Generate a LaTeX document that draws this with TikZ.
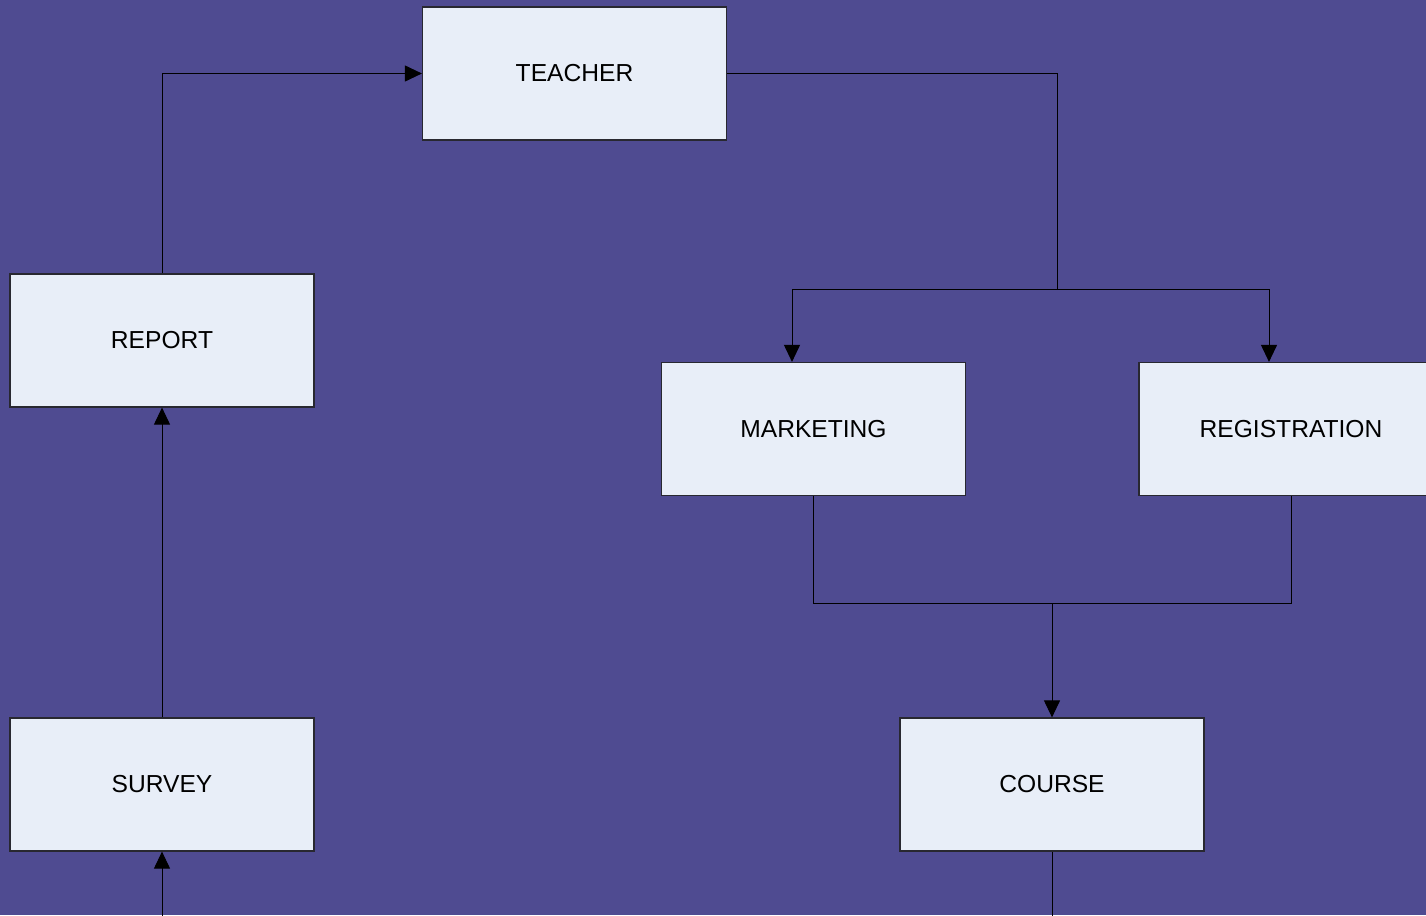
\documentclass[tikz,border=0pt]{standalone}
\usepackage{fontspec}
\setmainfont{Liberation Sans}
\usetikzlibrary{arrows.meta}
\definecolor{bg}{RGB}{79,75,145}
\definecolor{boxfill}{RGB}{232,238,248}
\definecolor{boxline}{RGB}{40,40,48}
\tikzset{
  block/.style={draw=boxline, line width=1.2pt, fill=boxfill, minimum width=304pt, minimum height=133pt, inner sep=0pt, font=\fontsize{24.6}{28}\selectfont, text=black},
  conn/.style={draw=black, line width=1pt},
  arr/.style={conn, -{Triangle[length=17pt,width=16pt]}}
}
\begin{document}
\begin{tikzpicture}[x=1pt,y=-1pt]
\fill[bg] (0,0) rectangle (1426,915);
\useasboundingbox (0,0) rectangle (1426,915);
\clip (0,0) rectangle (1426,915);
\node[block] (teacher) at (574.5,73.5) {TEACHER};
\node[block] (report) at (162,340.5) {REPORT};
\node[block] (survey) at (162,784.5) {SURVEY};
\node[block] (marketing) at (813.5,429) {MARKETING};
\node[block] (registration) at (1291,429) {REGISTRATION};
\node[block] (course) at (1052,784.5) {COURSE};
\coordinate (split) at (1057,289);
\coordinate (merge) at (1052,603.5);
\coordinate (botA) at (162,916);
\coordinate (botB) at (1052,916);
\draw[arr] (report.north) |- (teacher.west);
\draw[conn] (teacher.east) -| (split);
\draw[arr] (split) -| ([xshift=-21.5pt]marketing.north);
\draw[arr] (split) -| ([xshift=-22pt]registration.north);
\draw[conn] (marketing.south) |- (merge);
\draw[conn] (registration.south) |- (merge);
\draw[arr] (merge) -- (course.north);
\draw[arr] (survey.north) -- (report.south);
\draw[arr] (botA) -- (survey.south);
\draw[conn] (course.south) -- (botB);
\end{tikzpicture}
\end{document}
